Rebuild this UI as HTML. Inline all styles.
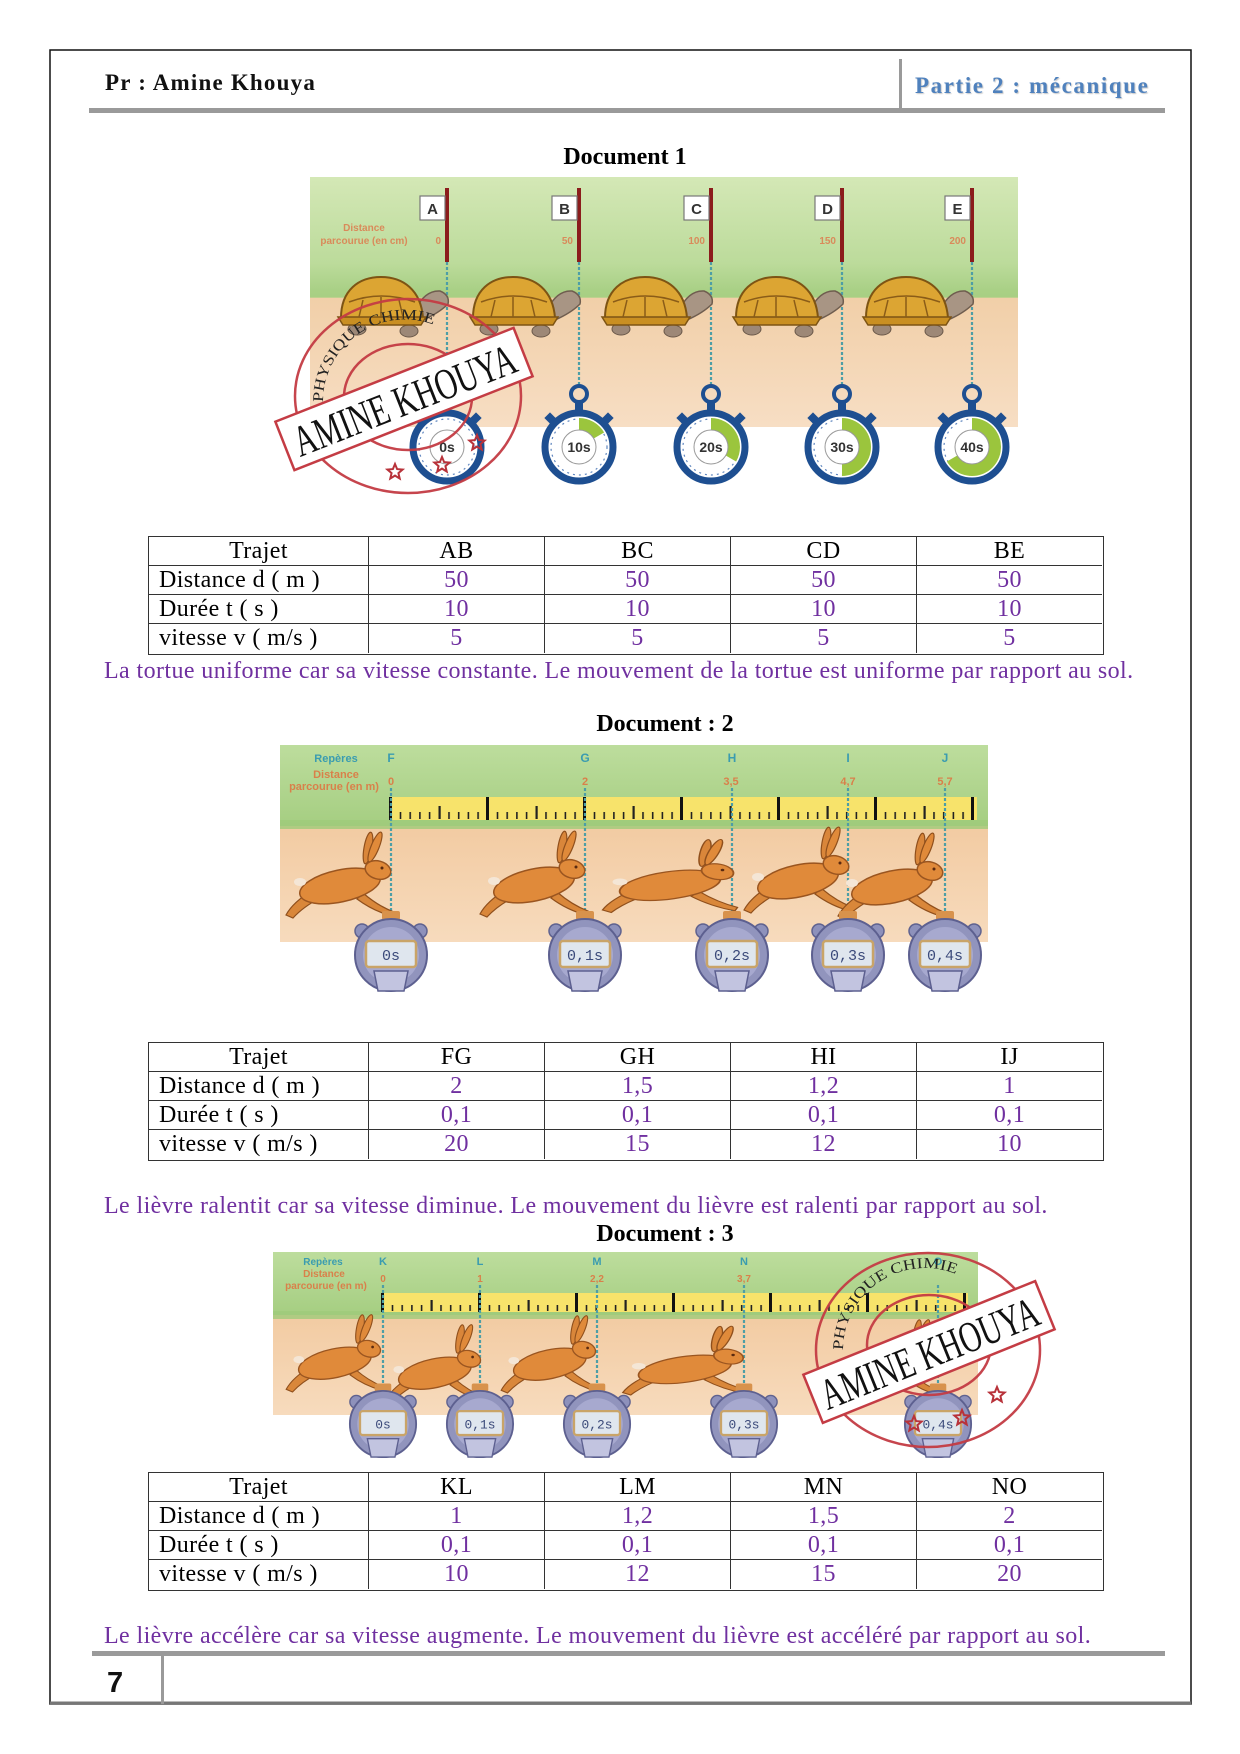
<!DOCTYPE html>
<html><head><meta charset="utf-8">
<style>
html,body{margin:0;padding:0;background:#fff;}
body{width:1240px;height:1754px;position:relative;overflow:hidden;}
.abs{position:absolute;white-space:nowrap;}
.hdr{font-family:"Liberation Serif",serif;font-weight:bold;}
.title{font-family:"Liberation Serif",serif;font-weight:bold;font-size:24px;line-height:24px;text-align:center;width:400px;color:#000;}
.sent{font-family:"Liberation Serif",serif;font-size:24px;line-height:22px;letter-spacing:0.4px;color:#7030a0;left:104px;}
.grid{position:absolute;left:148px;width:956px;height:119px;box-sizing:border-box;border:1.5px solid #333;display:grid;grid-template-columns:220px 176px 186px 186px 185px;grid-template-rows:29px 29px 29px 29px;font-family:"Liberation Serif",serif;font-size:24px;letter-spacing:0.4px;}
.grid div{box-sizing:border-box;border-right:1.5px solid #333;border-bottom:1.5px solid #333;line-height:28px;text-align:center;color:#7030a0;white-space:nowrap;overflow:hidden;}
.grid div.lc{border-right:none;}
.grid div.lr{border-bottom:none;}
.grid div.h{color:#000;}
.grid div.lab{color:#000;text-align:left;padding-left:10px;}
</style></head>
<body>
<svg width="1240" height="1754" viewBox="0 0 1240 1754" style="position:absolute;left:0;top:0" xmlns="http://www.w3.org/2000/svg">
<defs>
<linearGradient id="g1" x1="0" y1="0" x2="0" y2="1"><stop offset="0" stop-color="#d4e8b6"/><stop offset="0.7" stop-color="#bcdb9b"/><stop offset="1" stop-color="#a2cc7e"/></linearGradient>
<linearGradient id="s1" x1="0" y1="0" x2="0" y2="1"><stop offset="0" stop-color="#f1cfa8"/><stop offset="1" stop-color="#f7dec4"/></linearGradient>
<linearGradient id="g2" x1="0" y1="0" x2="0" y2="1"><stop offset="0" stop-color="#bddd9d"/><stop offset="1" stop-color="#a4cd80"/></linearGradient>
<linearGradient id="s2" x1="0" y1="0" x2="0" y2="1"><stop offset="0" stop-color="#f2cba2"/><stop offset="1" stop-color="#f7dbbd"/></linearGradient>
<pattern id="tk2" x="390" y="797" width="9.7" height="23" patternUnits="userSpaceOnUse"><rect x="0" y="15" width="1.6" height="7" fill="#222"/></pattern>
<pattern id="tm2" x="438.5" y="797" width="97" height="23" patternUnits="userSpaceOnUse"><rect x="0" y="9" width="2.2" height="13" fill="#222"/></pattern>
<pattern id="tj2" x="389" y="797" width="97" height="23" patternUnits="userSpaceOnUse"><rect x="0" y="0" width="3" height="23" fill="#111"/></pattern>
<pattern id="tk3" x="382" y="1293" width="9.7" height="19" patternUnits="userSpaceOnUse"><rect x="0" y="12" width="1.6" height="6" fill="#222"/></pattern>
<pattern id="tm3" x="430.5" y="1293" width="97" height="19" patternUnits="userSpaceOnUse"><rect x="0" y="7" width="2.2" height="11" fill="#222"/></pattern>
<pattern id="tj3" x="381" y="1293" width="97" height="19" patternUnits="userSpaceOnUse"><rect x="0" y="0" width="3" height="19" fill="#111"/></pattern>
<g id="tort">
 <ellipse cx="-90" cy="329" rx="9" ry="6" fill="#9d8877" stroke="#6a5849"/>
 <ellipse cx="-38" cy="331" rx="9" ry="6" fill="#9d8877" stroke="#6a5849"/>
 <path d="M-32,310 Q-22,290 -7,291 Q3,295 1,304 Q-8,313 -24,320 Z" fill="#a89584" stroke="#6f5d4f" stroke-width="1.5"/>
 <path d="M-106,318 C-106,290 -88,277 -66,277 C-44,277 -26,290 -24,318 Z" fill="#dca533" stroke="#7d5414" stroke-width="2"/>
 <path d="M-109,317 L-21,317 L-26,325 L-104,325 Z" fill="#c98f22" stroke="#7d5414" stroke-width="1.5"/>
 <path d="M-88,317 L-84,300 M-66,317 L-66,297 M-44,317 L-48,300 M-98,302 Q-66,290 -32,302" stroke="#8a5c18" fill="none" stroke-width="1.5"/>
</g>
<g id="sw1">
 <circle cx="0" cy="-53" r="8" fill="none" stroke="#1e4f91" stroke-width="4"/>
 <rect x="-4" y="-46" width="8" height="10" fill="#1e4f91"/>
 <rect x="-4" y="-45" width="8" height="9" fill="#1e4f91" transform="rotate(45)"/>
 <rect x="-4" y="-45" width="8" height="9" fill="#1e4f91" transform="rotate(-45)"/>
 <circle r="34" fill="#fff" stroke="#1e4f91" stroke-width="7"/>
 <circle r="28" fill="none" stroke="#5f86bf" stroke-width="1.2" stroke-dasharray="2 4"/>
</g>
<g id="hare">
 <path d="M-75,22 Q-95,34 -102,47 L-95,50 Q-85,39 -68,30 Z" fill="#d9873a" stroke="#8f4f1c" stroke-width="1.2"/>
 <path d="M-25,25 Q-10,38 6,44 L4,48 Q-15,43 -31,31 Z" fill="#d9873a" stroke="#8f4f1c" stroke-width="1.2"/>
 <ellipse cx="-48" cy="18" rx="41" ry="16" transform="rotate(-12 -48 18)" fill="#e08a3a" stroke="#9a5520" stroke-width="1.5"/>
 <ellipse cx="-88" cy="14" rx="6" ry="4" fill="#f4e6d6"/>
 <ellipse cx="-20" cy="-20" rx="4" ry="16" transform="rotate(10 -20 -20)" fill="#d9863a" stroke="#8f4f1c" stroke-width="1.2"/>
 <ellipse cx="-13" cy="-21" rx="4" ry="16" transform="rotate(22 -13 -21)" fill="#e08a3a" stroke="#8f4f1c" stroke-width="1.2"/>
 <ellipse cx="-10" cy="2" rx="13" ry="9" transform="rotate(15 -10 2)" fill="#e08a3a" stroke="#9a5520" stroke-width="1.5"/>
 <circle cx="-6" cy="0" r="1.5" fill="#5a2a10"/>
</g>
<g id="sw2">
 <circle cx="-29" cy="-24" r="7" fill="#8e91bb" stroke="#5f628f" stroke-width="1.5"/>
 <circle cx="29" cy="-24" r="7" fill="#8e91bb" stroke="#5f628f" stroke-width="1.5"/>
 <rect x="-9" y="-44" width="18" height="9" rx="2" fill="#d8924c"/>
 <circle r="36" fill="#9194bd" stroke="#5d6090" stroke-width="2"/>
 <circle r="28" fill="#a7a9cf"/>
 <path d="M-17,16 L17,16 L13,36 L-13,36 Z" fill="#c2c4e0" stroke="#5d6090" stroke-width="1.5"/>
 <rect x="-25" y="-14" width="50" height="26" rx="3" fill="#dfe6ee" stroke="#c9a468" stroke-width="2.5"/>
</g>
<path id="star" d="M0,-8 L2.12,-2.91 L7.61,-2.47 L3.42,1.11 L4.70,6.47 L0,3.6 L-4.70,6.47 L-3.42,1.11 L-7.61,-2.47 L-2.12,-2.91 Z"/>
<path id="arc1" d="M323,402 A82,82 0 0,1 437,326" fill="none"/>
<path id="arc2" d="M843,1350 A82,82 0 0,1 953,1273" fill="none"/>
</defs>

<!-- page frame -->
<rect x="50" y="50" width="1141" height="1654" fill="none" stroke="#111" stroke-width="1.5"/>
<line x1="50" y1="1703" x2="1191" y2="1703" stroke="#777" stroke-width="3"/>
<rect x="89" y="108" width="1076" height="5" fill="#9a9a9a"/>
<rect x="899" y="59" width="3" height="51" fill="#9a9a9a"/>
<rect x="92" y="1651" width="1073" height="5" fill="#9a9a9a"/>
<rect x="161" y="1653" width="3" height="51" fill="#9a9a9a"/>

<!-- ============ DOC 1 image ============ -->
<rect x="310" y="177" width="708" height="123" fill="url(#g1)"/>
<rect x="310" y="297" width="708" height="130" fill="url(#s1)"/>
<rect x="310" y="290" width="708" height="8" fill="#a9d085" opacity="0.7"/>
<g font-family="Liberation Sans, sans-serif" font-weight="bold" fill="#d98a5a" font-size="10">
 <text x="364" y="231" text-anchor="middle">Distance</text>
 <text x="364" y="244" text-anchor="middle">parcourue (en cm)</text>
 <text x="441" y="244" text-anchor="end">0</text>
 <text x="573" y="244" text-anchor="end">50</text>
 <text x="705" y="244" text-anchor="end">100</text>
 <text x="836" y="244" text-anchor="end">150</text>
 <text x="966" y="244" text-anchor="end">200</text>
</g>
<g stroke="#4d9ea6" stroke-width="2.2" stroke-dasharray="3 2">
 <line x1="447" y1="262" x2="447" y2="386"/><line x1="579" y1="262" x2="579" y2="386"/><line x1="711" y1="262" x2="711" y2="386"/><line x1="842" y1="262" x2="842" y2="386"/><line x1="972" y1="262" x2="972" y2="386"/>
</g>
<use href="#tort" x="447" y="0"/><use href="#tort" x="579" y="0"/><use href="#tort" x="711" y="0"/><use href="#tort" x="842" y="0"/><use href="#tort" x="972" y="0"/>
<g fill="#8b1c1c">
 <rect x="445" y="188" width="4" height="74"/><rect x="577" y="188" width="4" height="74"/><rect x="709" y="188" width="4" height="74"/><rect x="840" y="188" width="4" height="74"/><rect x="970" y="188" width="4" height="74"/>
</g>
<g fill="#fff" stroke="#777" stroke-width="1.2">
 <rect x="420" y="196" width="25" height="24"/><rect x="552" y="196" width="25" height="24"/><rect x="684" y="196" width="25" height="24"/><rect x="815" y="196" width="25" height="24"/><rect x="945" y="196" width="25" height="24"/>
</g>
<g font-family="Liberation Sans, sans-serif" font-weight="bold" font-size="15" fill="#333" text-anchor="middle">
 <text x="432.5" y="214">A</text><text x="564.5" y="214">B</text><text x="696.5" y="214">C</text><text x="827.5" y="214">D</text><text x="957.5" y="214">E</text>
</g>
<!-- stopwatches doc1 -->
<g transform="translate(447,447)"><use href="#sw1"/><circle r="17" fill="#fff" stroke="#999" stroke-width="1"/><text y="5" text-anchor="middle" font-family="Liberation Sans, sans-serif" font-weight="bold" font-size="14" fill="#333">0s</text></g>
<g transform="translate(579,447)"><use href="#sw1"/><path d="M0,-29 A29,29 0 0,1 25.1,-14.5 L14.7,-8.5 A17,17 0 0,0 0,-17 Z" fill="#9bc53d"/><circle r="17" fill="#fff" stroke="#999" stroke-width="1"/><text y="5" text-anchor="middle" font-family="Liberation Sans, sans-serif" font-weight="bold" font-size="14" fill="#333">10s</text></g>
<g transform="translate(711,447)"><use href="#sw1"/><path d="M0,-29 A29,29 0 0,1 25.1,14.5 L14.7,8.5 A17,17 0 0,0 0,-17 Z" fill="#9bc53d"/><circle r="17" fill="#fff" stroke="#999" stroke-width="1"/><text y="5" text-anchor="middle" font-family="Liberation Sans, sans-serif" font-weight="bold" font-size="14" fill="#333">20s</text></g>
<g transform="translate(842,447)"><use href="#sw1"/><path d="M0,-29 A29,29 0 0,1 0,29 L0,17 A17,17 0 0,0 0,-17 Z" fill="#9bc53d"/><circle r="17" fill="#fff" stroke="#999" stroke-width="1"/><text y="5" text-anchor="middle" font-family="Liberation Sans, sans-serif" font-weight="bold" font-size="14" fill="#333">30s</text></g>
<g transform="translate(972,447)"><use href="#sw1"/><path d="M0,-29 A29,29 0 1,1 -25.1,14.5 L-14.7,8.5 A17,17 0 1,0 0,-17 Z" fill="#9bc53d"/><circle r="17" fill="#fff" stroke="#999" stroke-width="1"/><text y="5" text-anchor="middle" font-family="Liberation Sans, sans-serif" font-weight="bold" font-size="14" fill="#333">40s</text></g>

<!-- stamp 1 -->
<g stroke="#c43c44" fill="none" stroke-width="2.5" opacity="0.95">
 <ellipse cx="408" cy="396" rx="113" ry="97"/>
 <ellipse cx="408" cy="397" rx="64" ry="53"/>
</g>
<text font-family="Liberation Serif, serif" font-size="15" fill="#222"><textPath href="#arc1" textLength="158" lengthAdjust="spacingAndGlyphs">PHYSIQUE CHIMIE</textPath></text>
<g transform="translate(404,399) rotate(-21.5)">
 <rect x="-128" y="-26" width="256" height="52" fill="#fff" stroke="#c43c44" stroke-width="2.5"/>
 <text x="0" y="16" text-anchor="middle" font-family="Liberation Serif, serif" font-size="44" fill="#111" textLength="236" lengthAdjust="spacingAndGlyphs">AMINE KHOUYA</text>
</g>
<g fill="none" stroke="#b8323a" stroke-width="2">
 <use href="#star" x="477" y="443"/><use href="#star" x="442" y="465"/><use href="#star" x="395" y="472"/>
</g>

<!-- ============ DOC 2 image ============ -->
<rect x="280" y="745" width="708" height="85" fill="url(#g2)"/>
<rect x="280" y="826" width="708" height="116" fill="url(#s2)"/>
<rect x="280" y="820" width="708" height="9" fill="#9fcb7b" opacity="0.8"/>
<rect x="390" y="797" width="587" height="23" fill="#f7e36b"/>
<rect x="389" y="797" width="589" height="23" fill="url(#tk2)"/>
<rect x="389" y="797" width="589" height="23" fill="url(#tm2)"/>
<rect x="389" y="797" width="590" height="23" fill="url(#tj2)"/>
<g font-family="Liberation Sans, sans-serif" font-weight="bold" font-size="11">
 <text x="336" y="762" text-anchor="middle" fill="#3a9cb0">Repères</text>
 <text x="336" y="778" text-anchor="middle" fill="#d9804a">Distance</text>
 <text x="334" y="790" text-anchor="middle" fill="#d9804a">parcourue (en m)</text>
 <g fill="#3a9cb0" text-anchor="middle" font-size="12"><text x="391" y="762">F</text><text x="585" y="762">G</text><text x="732" y="762">H</text><text x="848" y="762">I</text><text x="945" y="762">J</text></g>
 <g fill="#d9804a" text-anchor="middle"><text x="391" y="785">0</text><text x="585" y="785">2</text><text x="731" y="785">3,5</text><text x="848" y="785">4,7</text><text x="945" y="785">5,7</text></g>
</g>
<g stroke="#4d9ea6" stroke-width="2.2" stroke-dasharray="3 2">
 <line x1="391" y1="788" x2="391" y2="912"/><line x1="585" y1="788" x2="585" y2="912"/><line x1="732" y1="788" x2="732" y2="912"/><line x1="848" y1="788" x2="848" y2="912"/><line x1="945" y1="788" x2="945" y2="912"/>
</g>
<use href="#hare" x="388" y="868"/>
<use href="#hare" x="582" y="867"/>
<g transform="translate(730,870) scale(1.25,0.85)"><use href="#hare"/></g>
<use href="#hare" x="846" y="863"/>
<use href="#hare" x="940" y="869"/>
<g font-family="Liberation Mono, monospace" font-size="15" fill="#3b4a7a" text-anchor="middle">
 <g transform="translate(391,955)"><use href="#sw2"/><text y="5">0s</text></g>
 <g transform="translate(585,955)"><use href="#sw2"/><text y="5">0,1s</text></g>
 <g transform="translate(732,955)"><use href="#sw2"/><text y="5">0,2s</text></g>
 <g transform="translate(848,955)"><use href="#sw2"/><text y="5">0,3s</text></g>
 <g transform="translate(945,955)"><use href="#sw2"/><text y="5">0,4s</text></g>
</g>

<!-- ============ DOC 3 image ============ -->
<rect x="273" y="1252" width="705" height="66" fill="url(#g2)"/>
<rect x="273" y="1315" width="705" height="100" fill="url(#s2)"/>
<rect x="273" y="1311" width="705" height="8" fill="#9fcb7b" opacity="0.8"/>
<rect x="382" y="1293" width="586" height="19" fill="#f7e36b"/>
<rect x="381" y="1293" width="588" height="19" fill="url(#tk3)"/>
<rect x="381" y="1293" width="588" height="19" fill="url(#tm3)"/>
<rect x="381" y="1293" width="590" height="19" fill="url(#tj3)"/>
<g font-family="Liberation Sans, sans-serif" font-weight="bold" font-size="10">
 <text x="323" y="1265" text-anchor="middle" fill="#3a9cb0">Repères</text>
 <text x="324" y="1277" text-anchor="middle" fill="#d9804a">Distance</text>
 <text x="326" y="1289" text-anchor="middle" fill="#d9804a">parcourue (en m)</text>
 <g fill="#3a9cb0" text-anchor="middle" font-size="11"><text x="383" y="1265">K</text><text x="480" y="1265">L</text><text x="597" y="1265">M</text><text x="744" y="1265">N</text><text x="938" y="1265">O</text></g>
 <g fill="#d9804a" text-anchor="middle"><text x="383" y="1282">0</text><text x="480" y="1282">1</text><text x="597" y="1282">2,2</text><text x="744" y="1282">3,7</text></g>
</g>
<g stroke="#4d9ea6" stroke-width="2.2" stroke-dasharray="3 2">
 <line x1="383" y1="1285" x2="383" y2="1390"/><line x1="480" y1="1285" x2="480" y2="1390"/><line x1="597" y1="1285" x2="597" y2="1390"/><line x1="744" y1="1285" x2="744" y2="1390"/><line x1="938" y1="1285" x2="938" y2="1390"/>
</g>
<g transform="translate(378,1347) scale(0.9)"><use href="#hare"/></g>
<g transform="translate(478,1357) scale(0.9)"><use href="#hare"/></g>
<g transform="translate(593,1348) scale(0.9)"><use href="#hare"/></g>
<g transform="translate(740,1355) scale(1.15,0.8)"><use href="#hare"/></g>
<g transform="translate(935,1352) scale(0.9)"><use href="#hare"/></g>
<g font-family="Liberation Mono, monospace" font-size="14" fill="#3b4a7a" text-anchor="middle">
 <g transform="translate(383,1424) scale(0.92)"><use href="#sw2"/><text y="5">0s</text></g>
 <g transform="translate(480,1424) scale(0.92)"><use href="#sw2"/><text y="5">0,1s</text></g>
 <g transform="translate(597,1424) scale(0.92)"><use href="#sw2"/><text y="5">0,2s</text></g>
 <g transform="translate(744,1424) scale(0.92)"><use href="#sw2"/><text y="5">0,3s</text></g>
 <g transform="translate(938,1424) scale(0.92)"><use href="#sw2"/><text y="5">0,4s</text></g>
</g>

<!-- stamp 2 -->
<g stroke="#c43c44" fill="none" stroke-width="2.5" opacity="0.95">
 <ellipse cx="928" cy="1350" rx="112" ry="97"/>
 <ellipse cx="929" cy="1345" rx="62" ry="50"/>
</g>
<text font-family="Liberation Serif, serif" font-size="15" fill="#222"><textPath href="#arc2" textLength="160" lengthAdjust="spacingAndGlyphs">PHYSIQUE CHIMIE</textPath></text>
<g transform="translate(929,1352) rotate(-22)">
 <rect x="-125" y="-26" width="250" height="52" fill="#fff" stroke="#c43c44" stroke-width="2.5"/>
 <text x="0" y="16" text-anchor="middle" font-family="Liberation Serif, serif" font-size="44" fill="#111" textLength="232" lengthAdjust="spacingAndGlyphs">AMINE KHOUYA</text>
</g>
<g fill="none" stroke="#b8323a" stroke-width="2">
 <use href="#star" x="997" y="1395"/><use href="#star" x="962" y="1418"/><use href="#star" x="914" y="1424"/>
</g>
</svg>

<!-- header -->
<div class="abs hdr" style="left:105px;top:72px;font-size:23px;line-height:22px;letter-spacing:1.2px;color:#111;">Pr : Amine Khouya</div>
<div class="abs hdr" style="left:915px;top:74px;font-size:23px;line-height:23px;letter-spacing:1.6px;color:#4f81bd;text-shadow:1px 1px 1px #c9c9c9;">Partie 2 : mécanique</div>

<div class="abs title" style="left:425px;top:145px;">Document 1</div>

<div class="grid" style="top:536px;">
 <div class="h">Trajet</div><div class="h">AB</div><div class="h">BC</div><div class="h">CD</div><div class="h lc">BE</div>
 <div class="lab">Distance d ( m )</div><div>50</div><div>50</div><div>50</div><div class="lc">50</div>
 <div class="lab">Durée t ( s )</div><div>10</div><div>10</div><div>10</div><div class="lc">10</div>
 <div class="lab lr">vitesse v ( m/s )</div><div class="lr">5</div><div class="lr">5</div><div class="lr">5</div><div class="lc lr">5</div>
</div>
<div class="abs sent" style="top:660px;">La tortue uniforme car sa vitesse constante. Le mouvement de la tortue est uniforme par rapport au sol.</div>

<div class="abs title" style="left:465px;top:712px;">Document : 2</div>

<div class="grid" style="top:1042px;">
 <div class="h">Trajet</div><div class="h">FG</div><div class="h">GH</div><div class="h">HI</div><div class="h lc">IJ</div>
 <div class="lab">Distance d ( m )</div><div>2</div><div>1,5</div><div>1,2</div><div class="lc">1</div>
 <div class="lab">Durée t ( s )</div><div>0,1</div><div>0,1</div><div>0,1</div><div class="lc">0,1</div>
 <div class="lab lr">vitesse v ( m/s )</div><div class="lr">20</div><div class="lr">15</div><div class="lr">12</div><div class="lc lr">10</div>
</div>
<div class="abs sent" style="top:1195px;">Le lièvre ralentit car sa vitesse diminue. Le mouvement du lièvre est ralenti par rapport au sol.</div>

<div class="abs title" style="left:465px;top:1222px;">Document : 3</div>

<div class="grid" style="top:1472px;">
 <div class="h">Trajet</div><div class="h">KL</div><div class="h">LM</div><div class="h">MN</div><div class="h lc">NO</div>
 <div class="lab">Distance d ( m )</div><div>1</div><div>1,2</div><div>1,5</div><div class="lc">2</div>
 <div class="lab">Durée t ( s )</div><div>0,1</div><div>0,1</div><div>0,1</div><div class="lc">0,1</div>
 <div class="lab lr">vitesse v ( m/s )</div><div class="lr">10</div><div class="lr">12</div><div class="lr">15</div><div class="lc lr">20</div>
</div>
<div class="abs sent" style="top:1625px;">Le lièvre accélère car sa vitesse augmente. Le mouvement du lièvre est accéléré par rapport au sol.</div>

<div class="abs" style="left:107px;top:1669px;font-family:'Liberation Sans',sans-serif;font-weight:bold;font-size:29px;line-height:29px;color:#111;">7</div>
</body></html>
